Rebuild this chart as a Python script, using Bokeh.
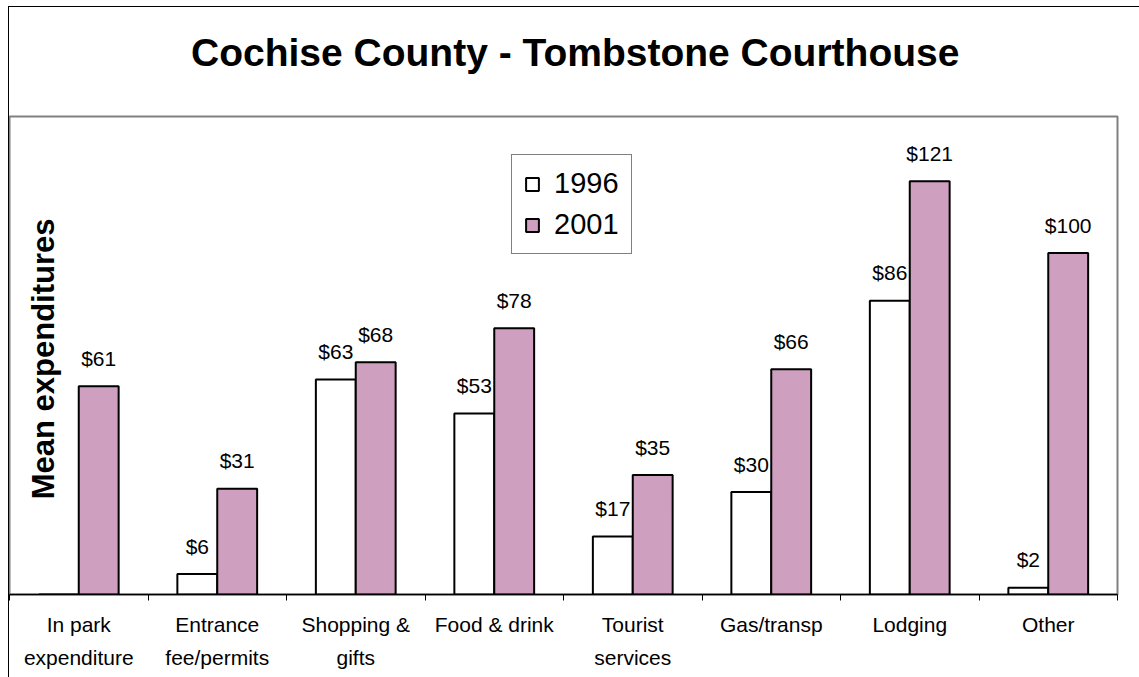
import math
from bokeh.plotting import figure
from bokeh.layouts import column
from bokeh.models import ColumnDataSource, FixedTicker, Label, Legend, LegendItem, Div
from bokeh.embed import file_html
from bokeh.resources import INLINE

categories = ["In park\nexpenditure", "Entrance\nfee/permits", "Shopping &\ngifts",
              "Food & drink", "Tourist\nservices", "Gas/transp", "Lodging", "Other"]
values_1996 = [0, 6, 63, 53, 17, 30, 86, 2]
values_2001 = [61, 31, 68, 78, 35, 66, 121, 100]
series_names = ["1996", "2001"]
title_text = "Cochise County - Tombstone Courthouse"
y_label = "Mean expenditures"

FONT = "Liberation Sans"
BW = 0.288
n = len(categories)
centers = [i + 0.5 for i in range(n)]

p = figure(width=1130, height=562, x_range=(0, n), y_range=(0, 140),
           output_backend="svg", toolbar_location=None,
           min_border_left=0, min_border_right=22, min_border_top=1,
           min_border_bottom=83)
p.outline_line_color = "#808080"
p.outline_line_width = 2
p.grid.visible = False
p.yaxis.visible = False
p.background_fill_color = "white"
p.border_fill_color = "white"

s96 = ColumnDataSource(dict(x=[c - BW / 2 for c in centers], top=values_1996,
                            lab=["$%d" % v if v > 0 else "" for v in values_1996]))
s01 = ColumnDataSource(dict(x=[c + BW / 2 for c in centers], top=values_2001,
                            lab=["$%d" % v for v in values_2001]))

r96 = p.vbar(x="x", top="top", width=BW, source=s96, fill_color="white",
             line_color="black", line_width=2)
r01 = p.vbar(x="x", top="top", width=BW, source=s01, fill_color="#cf9fbf",
             line_color="black", line_width=2)

for s in (s96, s01):
    p.text(x="x", y="top", text="lab", source=s, text_align="center",
           text_baseline="alphabetic", y_offset=-28, text_font_size="21px",
           text_font={"value": FONT}, text_color="black")

ax = p.xaxis[0]
ax.ticker = FixedTicker(ticks=centers, minor_ticks=list(range(n + 1)))
ax.major_label_overrides = {c: lab for c, lab in zip(centers, categories)}
ax.major_tick_line_color = None
ax.minor_tick_line_color = "black"
ax.minor_tick_out = 6
ax.minor_tick_in = 0
ax.axis_line_color = "black"
ax.axis_line_width = 1.5
ax.major_label_text_font = FONT
ax.major_label_text_font_size = "21px"
ax.major_label_text_line_height = 1.45
ax.major_label_standoff = 12
ax.major_label_text_color = "black"

p.add_layout(Label(x=0.245, y=69, text=y_label, angle=math.pi / 2,
                   text_align="center", text_baseline="middle",
                   text_font=FONT, text_font_size="31px",
                   text_font_style="bold", text_color="black"))

legend = Legend(items=[LegendItem(label=series_names[0], renderers=[r96]),
                       LegendItem(label=series_names[1], renderers=[r01])],
                location=(502, 340), glyph_width=16, glyph_height=16,
                label_text_font=FONT, label_text_font_size="29px",
                label_text_color="black",
                padding=12, spacing=8, label_standoff=14, margin=0,
                border_line_color="black", border_line_width=1.5,
                background_fill_alpha=1)
p.add_layout(legend)

title = Div(text=title_text, width=1130, height=108, margin=0,
            styles={"font-family": FONT, "font-size": "39px", "font-weight": "bold",
                    "color": "black", "line-height": "40px", "white-space": "nowrap",
                    "padding-top": "26px", "padding-left": "182px",
                    "box-sizing": "border-box", "background-color": "white"})

layout = column(title, p, spacing=0,
                styles={"margin-left": "8px", "margin-top": "6px",
                        "border-left": "1px solid black", "border-top": "1px solid black"})

open("out.html", "w").write(file_html(layout, INLINE))
